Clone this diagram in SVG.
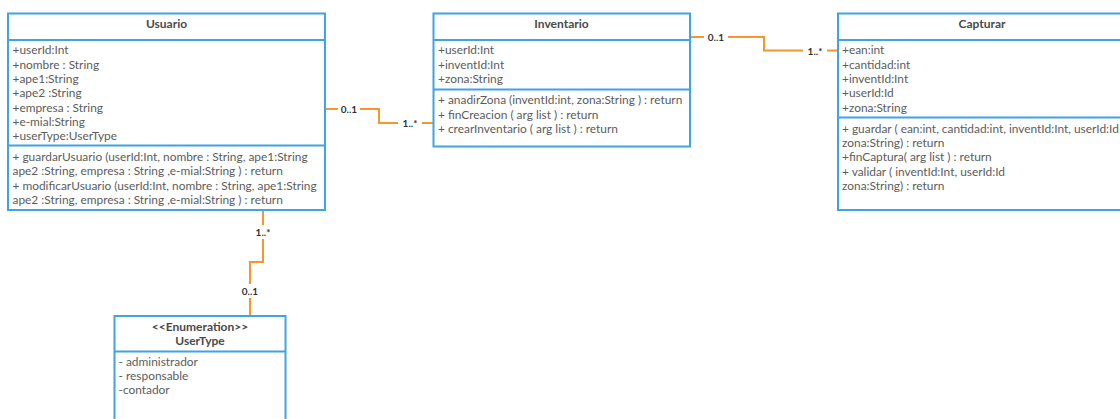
<svg xmlns="http://www.w3.org/2000/svg" width="1120" height="419" viewBox="0 0 1120 419">
<style>
.box{fill:#fff;stroke:#3fa4e4;stroke-width:2}
.div{stroke:#3fa4e4;stroke-width:2}
.t{font-family:Lato,"Open Sans","Liberation Sans",sans-serif;font-size:11.9px;fill:#5c5c5c}
.h{font-family:Lato,"Open Sans","Liberation Sans",sans-serif;font-size:12px;font-weight:bold;fill:#4a4a4a;text-anchor:middle}
.c{fill:none;stroke:#f5962f;stroke-width:2}
.lb{font-family:Lato,"Open Sans","Liberation Sans",sans-serif;font-size:10px;font-weight:bold;fill:#333;text-anchor:middle;dominant-baseline:central}
.bg{fill:#fff}
</style>
<rect width="1120" height="419" fill="#fff"/>
<g id="connectors">
<path class="c" d="M325,109 H379 V123 H433"/>
<path class="c" d="M690,37 H764 V50.5 H838"/>
<path class="c" d="M263,210 V262 H250 V316"/>
<rect class="bg" x="338" y="102" width="22" height="14"/>
<text class="lb" x="349" y="109">0..1</text>
<rect class="bg" x="398" y="116" width="24" height="14"/>
<text class="lb" x="410" y="123">1..*</text>
<rect class="bg" x="704" y="30" width="24" height="14"/>
<text class="lb" x="716" y="37">0..1</text>
<rect class="bg" x="803" y="43" width="24" height="14"/>
<text class="lb" x="815" y="50.5">1..*</text>
<rect class="bg" x="251" y="225" width="24" height="14"/>
<text class="lb" x="263" y="232">1..*</text>
<rect class="bg" x="238" y="284" width="24" height="14"/>
<text class="lb" x="250" y="291">0..1</text>
</g>
<g id="usuario">
<rect class="box" x="8" y="13.5" width="317" height="196.5"/>
<line class="div" x1="8" y1="40" x2="325" y2="40"/>
<line class="div" x1="8" y1="145.5" x2="325" y2="145.5"/>
<text class="h" x="166.5" y="28">Usuario</text>
<text class="t" x="12.5" y="54">+userId:Int</text>
<text class="t" x="12.5" y="68.5">+nombre : String</text>
<text class="t" x="12.5" y="83">+ape1:String</text>
<text class="t" x="12.5" y="97">+ape2 :String</text>
<text class="t" x="12.5" y="111.5">+empresa : String</text>
<text class="t" x="12.5" y="126">+e-mial:String</text>
<text class="t" x="12.5" y="140">+userType:UserType</text>
<text class="t" x="12.5" y="161">+ guardarUsuario (userId:Int, nombre : String, ape1:String</text>
<text class="t" x="12.5" y="175">ape2 :String, empresa : String ,e-mial:String ) : return</text>
<text class="t" x="12.5" y="189.5">+ modificarUsuario (userId:Int, nombre : String, ape1:String</text>
<text class="t" x="12.5" y="204">ape2 :String, empresa : String ,e-mial:String ) : return</text>
</g>
<g id="inventario">
<rect class="box" x="433.5" y="13.5" width="256.5" height="133"/>
<line class="div" x1="433.5" y1="40" x2="690" y2="40"/>
<line class="div" x1="433.5" y1="89.5" x2="690" y2="89.5"/>
<text class="h" x="561.5" y="28">Inventario</text>
<text class="t" x="438" y="54">+userId:Int</text>
<text class="t" x="438" y="68.5">+inventId:Int</text>
<text class="t" x="438" y="83">+zona:String</text>
<text class="t" x="438" y="104">+ anadirZona (inventId:int, zona:String ) : return</text>
<text class="t" x="438" y="118.5">+ finCreacion ( arg list ) : return</text>
<text class="t" x="438" y="132.5">+ crearInventario ( arg list ) : return</text>
</g>
<g id="capturar">
<rect class="box" x="838" y="13.5" width="300" height="196.5"/>
<line class="div" x1="838" y1="40" x2="1138" y2="40"/>
<line class="div" x1="838" y1="117.5" x2="1138" y2="117.5"/>
<text class="h" x="982" y="28">Capturar</text>
<text class="t" x="842" y="54">+ean:int</text>
<text class="t" x="842" y="68.5">+cantidad:int</text>
<text class="t" x="842" y="83">+inventId:Int</text>
<text class="t" x="842" y="97">+userId:Id</text>
<text class="t" x="842" y="111.5">+zona:String</text>
<text class="t" x="842" y="132.5">+ guardar ( ean:int, cantidad:int, inventId:Int, userId:Id</text>
<text class="t" x="842" y="147">zona:String) : return</text>
<text class="t" x="842" y="161">+finCaptura( arg list ) : return</text>
<text class="t" x="842" y="175.5">+ validar ( inventId:Int, userId:Id</text>
<text class="t" x="842" y="189.5">zona:String) : return</text>
</g>
<g id="usertype">
<rect class="box" x="114.5" y="316" width="171" height="120"/>
<line class="div" x1="114.5" y1="351.5" x2="285.5" y2="351.5"/>
<text class="h" x="200" y="330.5">&lt;&lt;Enumeration&gt;&gt;</text>
<text class="h" x="200" y="344.5">UserType</text>
<text class="t" x="118.5" y="366">- administrador</text>
<text class="t" x="118.5" y="380">- responsable</text>
<text class="t" x="118.5" y="394">-contador</text>
</g>
</svg>
